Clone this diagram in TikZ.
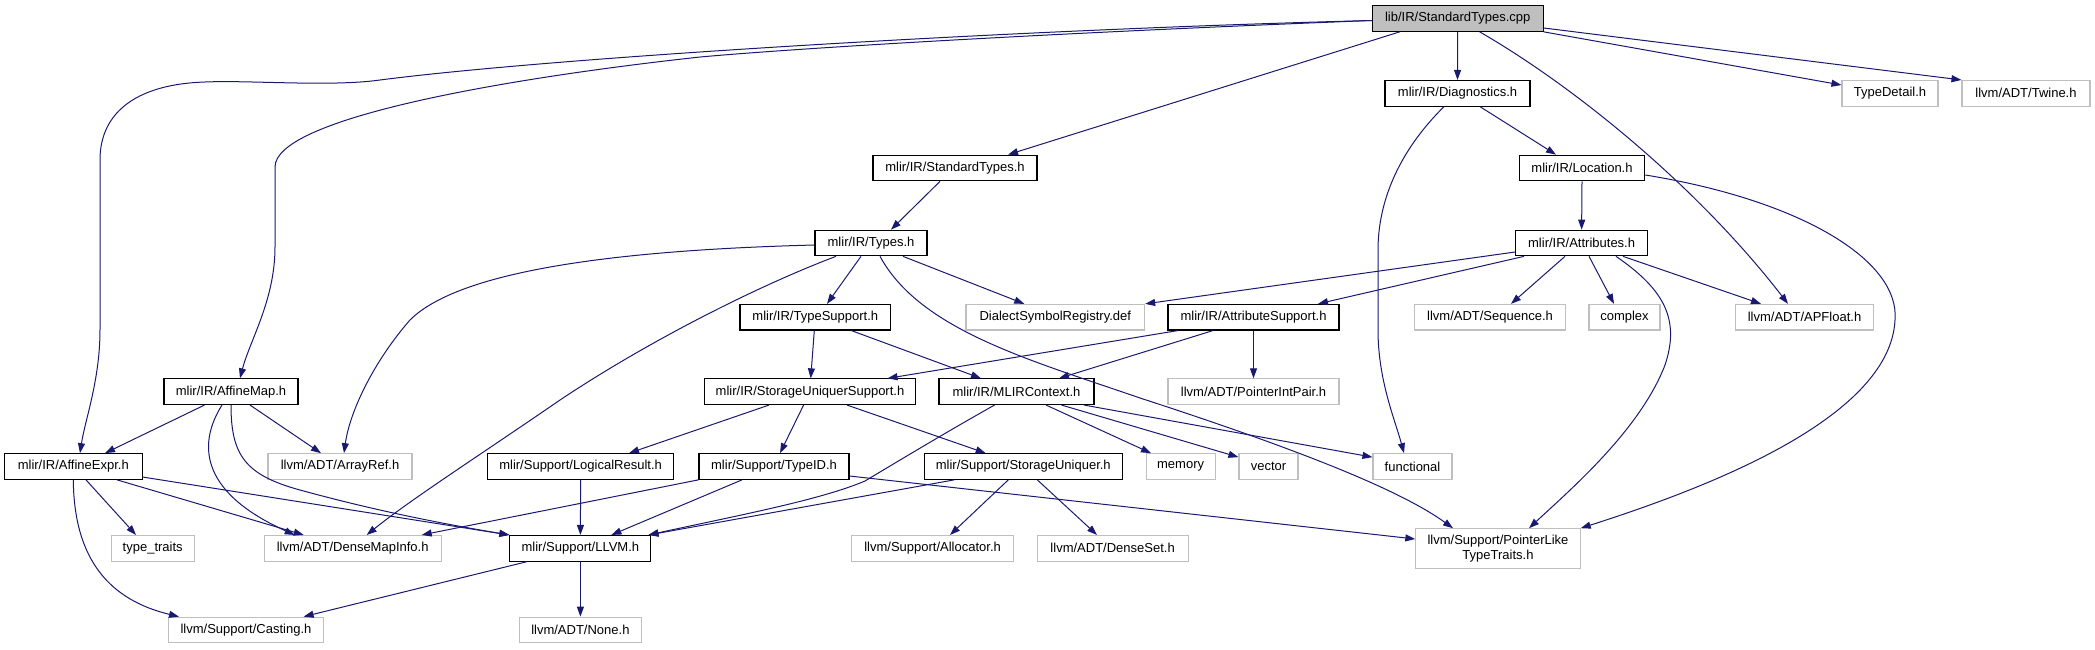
\documentclass[tikz,border=0pt]{standalone}
\usepackage{fontspec}
\newfontfamily\dfont{Liberation Sans}
\usetikzlibrary{arrows.meta}
\definecolor{edgec}{HTML}{191970}
\definecolor{graybox}{HTML}{BFBFBF}
\definecolor{rootfill}{HTML}{BFBFBF}
\tikzset{
  box/.style={draw=black, line width=1.1pt, fill=white, inner sep=0pt, minimum height=25.6pt,
    font=\dfont\fontsize{13}{14.5}\selectfont, align=center},
  gbox/.style={box, draw=graybox},
  e/.style={draw=edgec, line width=1pt, -{Triangle[length=10pt,width=7pt]}},
}
\begin{document}
\begin{tikzpicture}[x=1pt,y=-1pt]
\useasboundingbox (0,0) rectangle (2095,649);
% row 0
\node[box, fill=rootfill, minimum width=171pt] (root) at (1457.7,18.5) {lib/IR/StandardTypes.cpp};
% row 1
\node[box, minimum width=145pt] (diag) at (1457.5,93.3) {mlir/IR/Diagnostics.h};
\node[gbox, minimum width=96pt] (typedetail) at (1890,93.3) {TypeDetail.h};
\node[gbox, minimum width=128pt] (twine) at (2026,93.3) {llvm/ADT/Twine.h};
% row 2
\node[box, minimum width=164pt] (stdtypes) at (955,168) {mlir/IR/StandardTypes.h};
\node[box, minimum width=125.5pt] (location) at (1582,168) {mlir/IR/Location.h};
% row 3
\node[box, minimum width=112pt] (types) at (871,243) {mlir/IR/Types.h};
\node[box, minimum width=132pt] (attributes) at (1581.6,243) {mlir/IR/Attributes.h};
% row 4
\node[box, minimum width=150.6pt] (typesupport) at (815.3,317.2) {mlir/IR/TypeSupport.h};
\node[gbox, minimum width=178.6pt] (dsr) at (1055.3,317.2) {DialectSymbolRegistry.def};
\node[box, minimum width=171pt] (attrsupport) at (1253.5,317.2) {mlir/IR/AttributeSupport.h};
\node[gbox, minimum width=150.4pt] (sequence) at (1490,317.2) {llvm/ADT/Sequence.h};
\node[gbox, minimum width=71pt] (complex) at (1624.5,317.2) {complex};
\node[gbox, minimum width=138.6pt] (apfloat) at (1804.5,317.2) {llvm/ADT/APFloat.h};
% row 5
\node[box, minimum width=134pt] (affinemap) at (231,391.7) {mlir/IR/AffineMap.h};
\node[box, minimum width=210.5pt] (sus) at (810,391.7) {mlir/IR/StorageUniquerSupport.h};
\node[box, minimum width=155pt] (mlirctx) at (1016.5,391.7) {mlir/IR/MLIRContext.h};
\node[gbox, minimum width=171pt] (pip) at (1253.5,391.7) {llvm/ADT/PointerIntPair.h};
% row 6
\node[box, minimum width=137.5pt] (affineexpr) at (73.3,466.5) {mlir/IR/AffineExpr.h};
\node[gbox, minimum width=144pt] (arrayref) at (340,466.5) {llvm/ADT/ArrayRef.h};
\node[box, minimum width=186pt] (logicalresult) at (580.6,466.5) {mlir/Support/LogicalResult.h};
\node[box, minimum width=150pt] (typeid) at (774,466.5) {mlir/Support/TypeID.h};
\node[box, minimum width=197.5pt] (storageuniquer) at (1023.3,466.5) {mlir/Support/StorageUniquer.h};
\node[gbox, minimum width=69pt] (memory) at (1180.6,466.5) {memory};
\node[gbox, minimum width=59pt] (vector) at (1268.5,466.5) {vector};
\node[gbox, minimum width=79pt] (functional) at (1412.5,466.5) {functional};
% row 7
\node[gbox, minimum width=83pt] (typetraits) at (152.7,548.3) {type\_traits};
\node[gbox, minimum width=177pt] (densemapinfo) at (352.7,548.3) {llvm/ADT/DenseMapInfo.h};
\node[box, minimum width=141pt] (llvm) at (580.4,548.3) {mlir/Support/LLVM.h};
\node[gbox, minimum width=161.6pt] (allocator) at (932.6,548.3) {llvm/Support/Allocator.h};
\node[gbox, minimum width=151pt] (denseset) at (1112.6,548.3) {llvm/ADT/DenseSet.h};
\node[gbox, minimum width=164.3pt, minimum height=39.7pt] (pointerlike) at (1498,548.6) {llvm/Support/PointerLike\\TypeTraits.h};
% row 8
\node[gbox, minimum width=154.5pt] (casting) at (246,630) {llvm/Support/Casting.h};
\node[gbox, minimum width=122.5pt] (none) at (580.4,630) {llvm/ADT/None.h};

% ---- edges from root
\draw[e] ([yshift=-2pt]root.west) .. controls (1000,30) and (550,58) .. (380,80)
  .. controls (330,87) and (250,80) .. (205,82) .. controls (140,84) and (100,110) .. (100,160)
  -- (100,330) .. controls (100,380) and (85,420) .. ([xshift=6.7pt]affineexpr.north);
\draw[e] ([yshift=-2pt]root.west) .. controls (1050,33) and (800,48) .. (700,57)
  .. controls (490,80) and (275,120) .. (275,167) -- (275,247)
  .. controls (275,300) and (250,340) .. ([xshift=9pt]affinemap.north);
\draw[e] ([xshift=-58pt]root.south) -- ([xshift=53pt]stdtypes.north);
\draw[e] (root.south) -- (diag.north);
\draw[e] ([xshift=22pt]root.south) .. controls (1580,90) and (1700,190) .. ([xshift=-16.5pt]apfloat.north);
\draw[e] (root.south east) -- ([yshift=8.3pt]typedetail.west);
\draw[e] ([yshift=-9.5pt]root.east) -- (twine.north west);
% ---- Diagnostics
\draw[e] ([xshift=22.5pt]diag.south) -- ([xshift=-26pt]location.north);
\draw[e] ([xshift=-13.5pt]diag.south) .. controls (1400,150) and (1378,200) .. (1378,250)
  -- (1378,330) .. controls (1378,380) and (1395,420) .. ([xshift=-8.5pt]functional.north);
% ---- Location
\draw[e] (location.south) -- (attributes.north);
\draw[e] ([yshift=-7pt]location.east) .. controls (1800,200) and (1900,260) .. (1895,320)
  .. controls (1890,420) and (1700,490) .. (pointerlike.north east);
% ---- Attributes
\draw[e] ([yshift=-9pt]attributes.west) -- (dsr.north east);
\draw[e] ([xshift=-57.6pt]attributes.south) -- ([xshift=64.5pt]attrsupport.north);
\draw[e] ([xshift=-16.6pt]attributes.south) -- ([xshift=21pt]sequence.north);
\draw[e] ([xshift=7.4pt]attributes.south) -- ([xshift=-10.5pt]complex.north);
\draw[e] ([xshift=41.4pt]attributes.south) -- ([xshift=-43.5pt]apfloat.north);
\draw[e] ([xshift=34.4pt]attributes.south) .. controls (1665,290) and (1680,320) .. (1665,365)
  .. controls (1640,430) and (1570,490) .. ([xshift=31pt]pointerlike.north);
% ---- StandardTypes
\draw[e] ([xshift=-15pt]stdtypes.south) -- ([xshift=20pt]types.north);
% ---- Types
\draw[e] ([xshift=-10pt]types.south) -- ([xshift=11.7pt]typesupport.north);
\draw[e] ([xshift=32pt]types.south) -- ([xshift=-31pt]dsr.north);
\draw[e] ([yshift=-2pt]types.west) .. controls (620,250) and (460,270) .. (410,320)
  .. controls (375,360) and (350,410) .. ([xshift=4pt]arrayref.north);
\draw[e] ([xshift=-35pt]types.south) .. controls (760,285) and (650,340) .. (560,400)
  .. controls (480,455) and (410,500) .. ([xshift=14pt]densemapinfo.north);
\draw[e] ([xshift=9pt]types.south) .. controls (920,330) and (1030,360) .. (1140,398)
  .. controls (1300,450) and (1400,490) .. ([xshift=-45pt]pointerlike.north);
% ---- TypeSupport
\draw[e] ([xshift=-1pt]typesupport.south) -- ([xshift=0.7pt]sus.north);
\draw[e] ([xshift=36pt]typesupport.south) -- ([xshift=-35.5pt]mlirctx.north);
% ---- AttributeSupport
\draw[e] ([xshift=-75.5pt]attrsupport.south) -- ([xshift=77.5pt]sus.north);
\draw[e] ([xshift=-40.5pt]attrsupport.south) -- ([xshift=42.5pt]mlirctx.north);
\draw[e] (attrsupport.south) -- (pip.north);
% ---- StorageUniquerSupport
\draw[e] ([xshift=-41pt]sus.south) -- ([xshift=48.4pt]logicalresult.north);
\draw[e] ([xshift=-6.4pt]sus.south) -- ([xshift=6pt]typeid.north);
\draw[e] ([xshift=37pt]sus.south) -- ([xshift=-37.6pt]storageuniquer.north);
% ---- MLIRContext
\draw[e] ([xshift=-22pt]mlirctx.south) .. controls (950,430) and (900,460) .. (865,481)
  .. controls (820,500) and (740,515) .. ([xshift=-3pt]llvm.north east);
\draw[e] ([xshift=29.5pt]mlirctx.south) -- ([xshift=-29.6pt]memory.north);
\draw[e] ([xshift=45pt]mlirctx.south) -- ([yshift=-4pt]vector.north west);
\draw[e] ([xshift=67.5pt]mlirctx.south) -- ([yshift=-4pt]functional.north west);
% ---- TypeID
\draw[e] (typeid.south west) -- ([xshift=69pt]densemapinfo.north);
\draw[e] ([xshift=-32pt]typeid.south) -- ([xshift=31pt]llvm.north);
\draw[e] ([yshift=-9.5pt]typeid.east) -- ([yshift=9.6pt]pointerlike.west);
% ---- StorageUniquer
\draw[e] ([xshift=-69pt]storageuniquer.south) -- ([xshift=-3pt]llvm.north east);
\draw[e] ([xshift=-15pt]storageuniquer.south) -- ([xshift=17.4pt]allocator.north);
\draw[e] ([xshift=14pt]storageuniquer.south) -- ([xshift=-15.6pt]denseset.north);
% ---- LogicalResult
\draw[e] (logicalresult.south) -- (llvm.north);
% ---- AffineMap
\draw[e] ([xshift=-26.5pt]affinemap.south) -- ([xshift=31.7pt]affineexpr.north);
\draw[e] ([xshift=-9pt]affinemap.south) .. controls (200,440) and (195,490) .. ([xshift=-58pt]densemapinfo.north);
\draw[e] (affinemap.south) .. controls (231,455) and (245,475) .. (300,490)
  .. controls (380,512) and (450,525) .. (llvm.north west);
\draw[e] ([xshift=19pt]affinemap.south) -- ([xshift=-19pt]arrayref.north);
% ---- AffineExpr
\draw[e] ([xshift=12.7pt]affineexpr.south) -- ([xshift=-16.7pt]typetraits.north);
\draw[e] ([xshift=43.7pt]affineexpr.south) -- ([xshift=-49pt]densemapinfo.north);
\draw[e] ([yshift=-10.5pt]affineexpr.east) -- (llvm.north west);
\draw[e] (affineexpr.south) .. controls (74,560) and (110,600) .. ([xshift=-67pt]casting.north);
% ---- LLVM
\draw[e] ([xshift=-53.4pt]llvm.south) -- ([xshift=57.6pt]casting.north);
\draw[e] (llvm.south) -- (none.north);
\end{tikzpicture}
\end{document}
